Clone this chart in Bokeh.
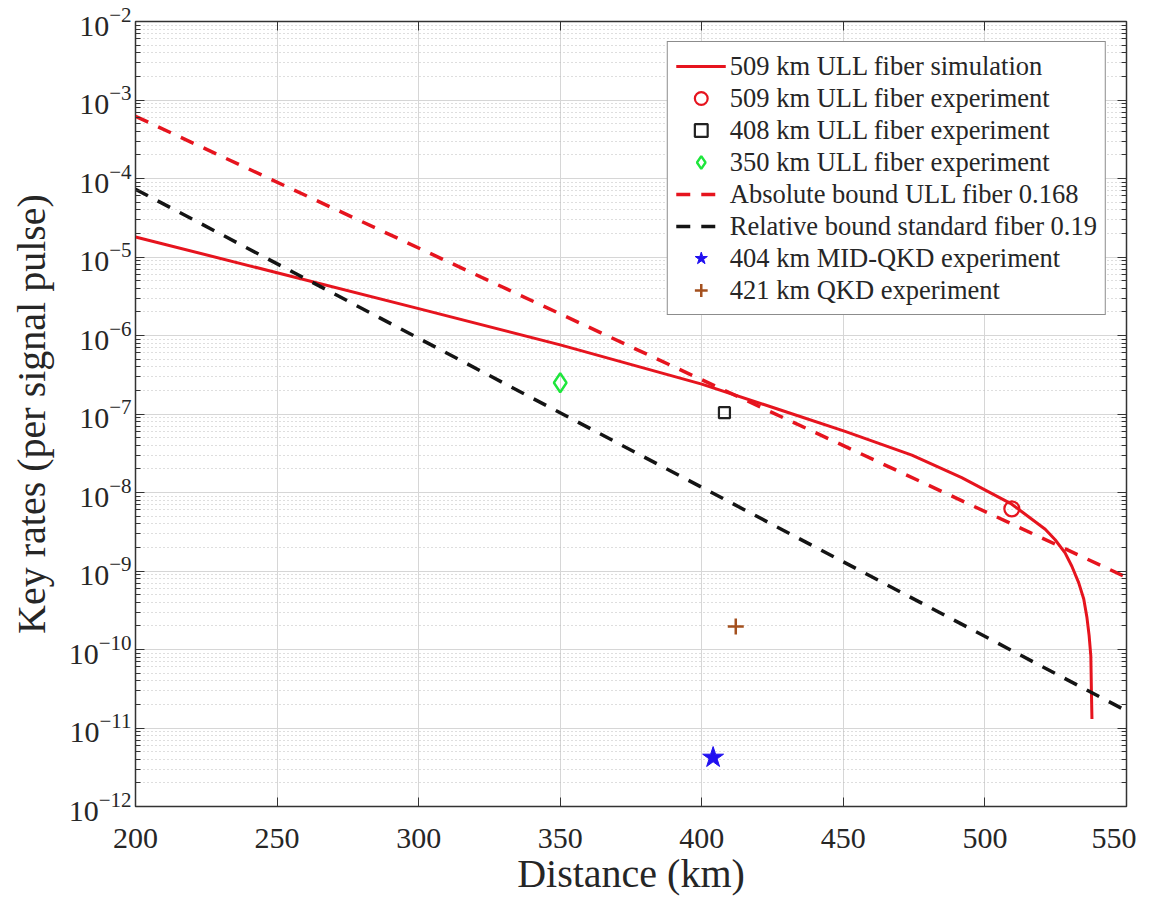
import numpy as np
from bokeh.plotting import figure
from bokeh.models import (LogAxis, LinearAxis, FixedTicker, LogTickFormatter,
                          CustomJSTickFormatter, Legend, LegendItem)
from bokeh.embed import file_html
from bokeh.resources import INLINE

# ---- data ----
sim_km = [200, 250, 300, 350, 400, 427, 450.6, 474.2, 491.8, 509.5, 521.3,
          524.8, 528.3, 530.7, 533.1, 534.9, 536.0, 536.8, 537.4, 537.6, 537.8]
sim_rate = [1.8e-5, 6.3e-6, 2.2e-6, 7.6e-7, 2.4e-7, 1.15e-7, 6.0e-8, 3.0e-8,
            1.55e-8, 7.1e-9, 3.4e-9, 2.5e-9, 1.7e-9, 1.15e-9, 7.1e-10,
            4.4e-10, 2.6e-10, 1.5e-10, 8.3e-11, 3.1e-11, 1.3e-11]

abs_km = [200, 550]
abs_rate = [6.2e-4, 8.3e-10]

rel_km = [200, 550]
rel_rate = [7.3e-5, 1.65e-11]

exp509_km, exp509_rate = [509.5], [6.2e-9]
exp408_km, exp408_rate = [408], [1.04e-7]
exp350_km, exp350_rate = [350], [2.5e-7]
mid_km, mid_rate = [404], [4.2e-12]
qkd_km, qkd_rate = [412], [1.96e-10]

labels = ["509 km ULL fiber simulation",
          "509 km ULL fiber experiment",
          "408 km ULL fiber experiment",
          "350 km ULL fiber experiment",
          "Absolute bound ULL fiber 0.168",
          "Relative bound standard fiber 0.19",
          "404 km MID-QKD experiment",
          "421 km QKD experiment"]

x_ticks = [200, 250, 300, 350, 400, 450, 500, 550]
y_exps = list(range(-12, -1))

# ---- styling ----
FONT = "Liberation Serif"
TXT = "#262626"
RED = "#e6141e"
BLACK = "#141414"
GREEN = "#1ee63c"
BLUE = "#2010f0"
BROWN = "#a4501e"

y_major = [10.0 ** e for e in y_exps]
y_minor = [k * 10.0 ** e for e in y_exps[:-1] for k in range(2, 10)]

p = figure(frame_width=991, frame_height=785, y_axis_type="log",
           x_range=(200, 550), y_range=(1e-12, 1e-2),
           output_backend="svg", toolbar_location=None,
           min_border_left=135, min_border_top=21, min_border_right=10,
           min_border_bottom=40)
p.background_fill_color = "white"
p.border_fill_color = "white"
p.outline_line_color = "#333333"
p.outline_line_width = 1.5

yt = FixedTicker(ticks=y_major, minor_ticks=y_minor)
xt = FixedTicker(ticks=x_ticks)
p.yaxis.ticker = yt
p.xaxis.ticker = xt
p.yaxis.formatter = LogTickFormatter()

for ax in (p.xaxis[0], p.yaxis[0]):
    ax.major_label_text_font = FONT
    ax.major_label_text_font_size = "30px"
    ax.major_label_text_color = TXT
    ax.axis_label_text_font = FONT
    ax.axis_label_text_font_size = "40px"
    ax.axis_label_text_font_style = "normal"
    ax.axis_label_text_color = TXT
    ax.axis_line_color = "#333333"
    ax.major_tick_in = 9
    ax.major_tick_out = 0
    ax.minor_tick_in = 5
    ax.minor_tick_out = 0
    ax.major_tick_line_color = "#333333"
    ax.minor_tick_line_color = "#333333"

p.xaxis.axis_label = "Distance (km)"
p.yaxis.axis_label = "Key rates (per signal pulse)"
p.xaxis.major_label_standoff = 22
p.xaxis.axis_label_standoff = 0
p.yaxis.major_label_standoff = 4
p.yaxis.axis_label_standoff = 12
p.xaxis.minor_tick_line_color = None

# box axes (right/top) with inward ticks and blank labels
blank = CustomJSTickFormatter(code="return ' ';")
ra = LogAxis(ticker=yt, formatter=blank, major_label_text_font_size="2px",
             major_tick_in=9, major_tick_out=0, minor_tick_in=5, minor_tick_out=0,
             axis_line_color="#333333", major_tick_line_color="#333333",
             minor_tick_line_color="#333333", major_label_standoff=0)
p.add_layout(ra, "right")
ta = LinearAxis(ticker=xt, formatter=blank, major_label_text_font_size="2px",
                major_tick_in=9, major_tick_out=0, minor_tick_line_color=None,
                axis_line_color="#333333", major_tick_line_color="#333333",
                major_label_standoff=0)
p.add_layout(ta, "above")

# grids
p.xgrid.grid_line_color = "#d6d6d6"
p.xgrid.grid_line_width = 1
p.ygrid.grid_line_color = "#d6d6d6"
p.ygrid.grid_line_width = 1
p.ygrid.minor_grid_line_color = "#bdbdbd"
p.ygrid.minor_grid_line_dash = "1 3"
p.ygrid.minor_grid_line_width = 1

# glyphs
r_sim = p.line(sim_km, sim_rate, line_color=RED, line_width=3, line_join="round")
r_abs = p.line(abs_km, abs_rate, line_color=RED, line_width=3.5, line_dash="14 11")
r_rel = p.line(rel_km, rel_rate, line_color=BLACK, line_width=3.5, line_dash="14 11")
r_509 = p.scatter(exp509_km, exp509_rate, marker="circle", size=15,
                  fill_color=None, line_color=RED, line_width=2.2)
r_408 = p.scatter(exp408_km, exp408_rate, marker="square", size=11,
                  fill_color=None, line_color="#222222", line_width=2.2)
r_350 = p.scatter(exp350_km, exp350_rate, marker="diamond", size=19,
                  fill_color=None, line_color=GREEN, line_width=2.4)
r_mid = p.scatter(mid_km, mid_rate, marker="star", size=22,
                  fill_color=BLUE, line_color=BLUE, line_width=1)
r_qkd = p.scatter(qkd_km, qkd_rate, marker="cross", size=16,
                  line_color=BROWN, line_width=2.5)

rends = [r_sim, r_509, r_408, r_350, r_abs, r_rel, r_mid, r_qkd]
legend = Legend(items=[LegendItem(label=l, renderers=[r]) for l, r in zip(labels, rends)],
                location="top_right")
legend.label_text_font = FONT
legend.label_text_font_size = "26.5px"
legend.label_text_color = TXT
legend.border_line_color = "#1a1a1a"
legend.border_line_width = 1.5
legend.background_fill_alpha = 1
legend.glyph_width = 50
legend.glyph_height = 32
legend.label_height = 32
legend.spacing = 0
legend.padding = 8
legend.margin = 20
legend.label_standoff = 4
p.add_layout(legend)

open("out.html", "w").write(file_html(p, INLINE))
